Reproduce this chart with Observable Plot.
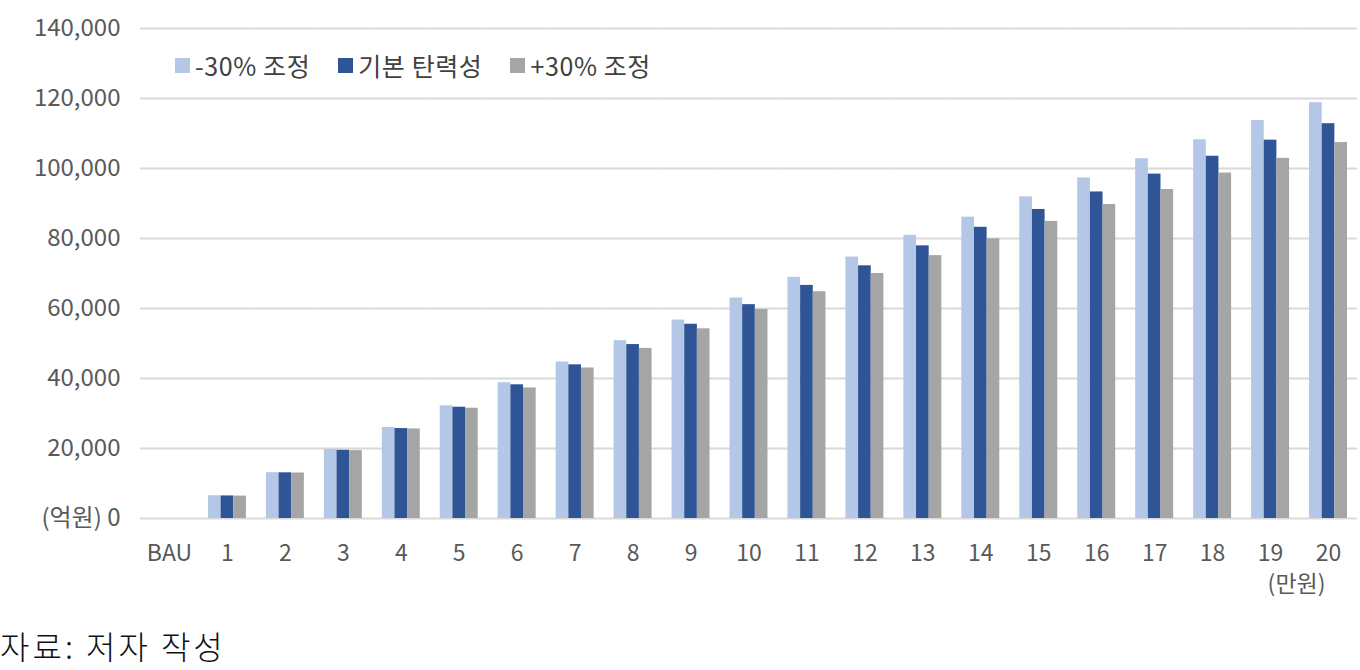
<!DOCTYPE html>
<html>
<head>
<meta charset="utf-8">
<script src="https://cdn.jsdelivr.net/npm/d3@7"></script>
<script src="https://cdn.jsdelivr.net/npm/@observablehq/plot@0.6"></script>
<style>
  html, body { margin: 0; padding: 0; background: #fff; overflow: hidden; }
  #wrap { position: relative; width: 1360px; height: 670px; overflow: hidden; background: #fff; }
  #chart svg { max-width: none !important; }
  #legend { position: absolute; left: 175px; top: 47px; }
  #legend .lg-swatches { margin: 0; font-family: "Noto Sans CJK KR", sans-serif; font-size: 25px; letter-spacing: 0.6px; color: #404040; }
  #legend .lg-swatch { margin-right: 28px; }
  #legend .lg-swatch > svg { margin-right: 5px; }
  #caption { position: absolute; left: 0; top: 629px; font-family: "Noto Sans CJK KR", sans-serif; font-weight: 300; font-size: 32px; line-height: 1; letter-spacing: 3px; color: #111; }
</style>
</head>
<body>
<div id="wrap">
  <div id="chart"></div>
  <div id="legend"></div>
  <div id="caption"></div>
</div>
<script>
const categories = ["BAU","1","2","3","4","5","6","7","8","9","10","11","12","13","14","15","16","17","18","19","20"];
const series = ["-30% 조정", "기본 탄력성", "+30% 조정"];
const colors = ["#b4c7e7", "#2f5597", "#a5a5a5"];
const valuesLow  = [0, 6500, 13100, 19700, 26000, 32200, 38800, 44700, 50800, 56700, 63000, 68900, 74700, 80900, 86100, 91900, 97300, 102800, 108200, 113700, 118800];
const valuesBase = [0, 6450, 13050, 19500, 25700, 31800, 38200, 43900, 49700, 55500, 61100, 66600, 72200, 77900, 83200, 88300, 93300, 98400, 103500, 108100, 112800];
const valuesHigh = [0, 6400, 13000, 19400, 25600, 31500, 37300, 43000, 48600, 54200, 59700, 64800, 70000, 75100, 79900, 84900, 89700, 94000, 98700, 102900, 107400];
const yTicks = [0, 20000, 40000, 60000, 80000, 100000, 120000, 140000];
const yTickLabels = ["(억원) 0", "20,000", "40,000", "60,000", "80,000", "100,000", "120,000", "140,000"];
const xUnitLabel = "(만원)";
const xUnitCategory = "19";
const captionText = "자료: 저자 작성";

const FONT = '"Noto Sans CJK KR", "Noto Sans", sans-serif';
const TEXT = "#595959";

const seriesValues = [valuesLow, valuesBase, valuesHigh];
const data = categories.flatMap((c, i) =>
  series.map((s, j) => ({category: c, series: s, value: seriesValues[j][i]}))
);

const chart = Plot.plot({
  width: 1360,
  height: 620,
  marginLeft: 140,
  marginRight: 3,
  marginTop: 28,
  marginBottom: 102,
  style: {fontFamily: FONT, fontSize: "23px", color: TEXT, background: "#fff", overflow: "visible"},
  fx: {domain: categories, padding: 0, round: false, label: null},
  x: {domain: series, paddingInner: 0, paddingOuter: 0.79, round: false, axis: null},
  y: {domain: [0, 140000], label: null},
  color: {domain: series, range: colors},
  marks: [
    Plot.gridY(yTicks, {stroke: "#d9d9d9", strokeOpacity: 1, strokeWidth: 2}),
    Plot.barY(data, {fx: "category", x: "series", y: "value", fill: "series"}),
    Plot.axisY(yTicks, {
      tickSize: 0, tickPadding: 20, label: null,
      tickFormat: (d) => yTickLabels[yTicks.indexOf(d)],
      fontSize: 24, fill: TEXT
    }),
    Plot.axisFx({anchor: "bottom", tickSize: 0, tickPadding: 26, label: null, fontSize: 23, fill: TEXT}),
    Plot.text([xUnitLabel], {
      fx: () => xUnitCategory,
      text: (d) => d,
      frameAnchor: "bottom-right",
      textAnchor: "middle",
      lineAnchor: "middle",
      dx: -3,
      dy: 66,
      fontSize: 23,
      fill: TEXT
    })
  ]
});
document.getElementById("chart").appendChild(chart);

const legend = chart.legend("color", {className: "lg", swatchSize: 15});
document.getElementById("legend").appendChild(legend);

document.getElementById("caption").textContent = captionText;
</script>
</body>
</html>
